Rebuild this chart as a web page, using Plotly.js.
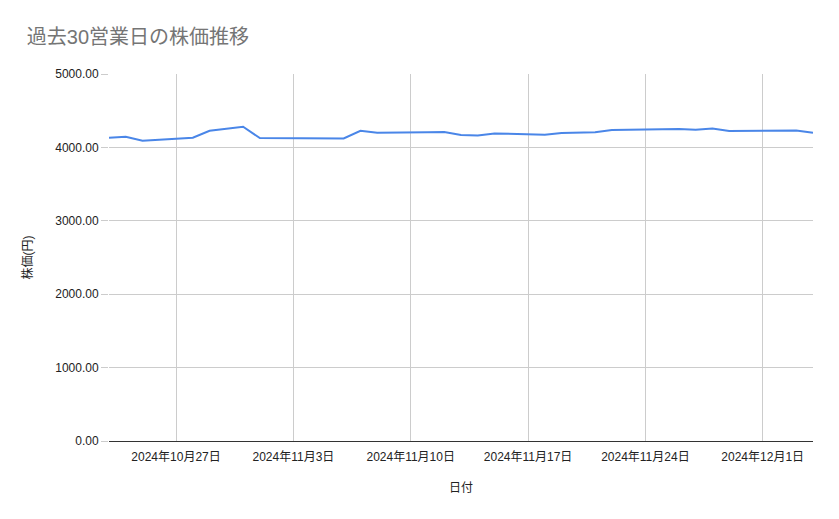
<!DOCTYPE html>
<html>
<head>
<meta charset="utf-8">
<script src="https://cdn.plot.ly/plotly-3.0.1.min.js"></script>
<style>
  html, body { margin: 0; padding: 0; background: #fff; }
  #chart { width: 839px; height: 519px; }
</style>
</head>
<body>
<div id="chart"></div>
<script>
// 過去30営業日の終値
const dates = [
    "2024-10-23", "2024-10-24", "2024-10-25", "2024-10-28", "2024-10-29",
    "2024-10-30", "2024-10-31", "2024-11-01", "2024-11-05", "2024-11-06",
    "2024-11-07", "2024-11-08", "2024-11-11", "2024-11-12", "2024-11-13",
    "2024-11-14", "2024-11-15", "2024-11-18", "2024-11-19", "2024-11-20",
    "2024-11-21", "2024-11-22", "2024-11-25", "2024-11-26", "2024-11-27",
    "2024-11-28", "2024-11-29", "2024-12-02", "2024-12-03", "2024-12-04"
];
const prices = [
    4131, 4145, 4090, 4131, 4227,
    4259, 4281, 4127, 4115, 4122,
    4227, 4199, 4205, 4210, 4170,
    4163, 4190, 4172, 4195, 4199,
    4208, 4236, 4245, 4250, 4240,
    4259, 4222, 4222, 4231, 4199
];
const xRange = ["2024-10-23", "2024-12-04"];
const yTicks = [0, 1000, 2000, 3000, 4000, 5000];

const fontFamily = "Liberation Sans, Arial, Noto Sans CJK JP, sans-serif";

let trace = {
    x: dates,
    y: prices,
    type: "scatter",
    mode: "lines",
    name: "株価",
    line: {
        color: "#4a86e8",
        width: 2
    },
    hoverinfo: "x+y"
};

let layout = {
    width: 839,
    height: 519,
    paper_bgcolor: "#ffffff",
    plot_bgcolor: "#ffffff",
    showlegend: false,
    font: {family: fontFamily, size: 12, color: "#222222"},
    margin: {l: 109, r: 26, t: 74, b: 78, pad: 0},
    title: {
        text: "過去30営業日の株価推移",
        x: 0.032,
        xanchor: "left",
        y: 0.928,
        yanchor: "middle",
        font: {family: fontFamily, size: 20, color: "#757575"}
    },
    xaxis: {
        type: "date",
        range: xRange,
        tick0: "2024-10-27",
        dtick: 7 * 24 * 60 * 60 * 1000,
        tickformat: "%Y年%-m月%-d日",
        showgrid: true,
        gridcolor: "#cccccc",
        gridwidth: 1,
        showline: true,
        linecolor: "#333333",
        linewidth: 1,
        ticks: "",
        ticklabelstandoff: 5,
        tickfont: {size: 12, color: "#222222"},
        zeroline: false,
        title: {
            text: "日付",
            standoff: 20,
            font: {size: 12, color: "#222222"}
        }
    },
    yaxis: {
        range: [0, 5000],
        tickvals: yTicks,
        tickformat: ".2f",
        showgrid: true,
        gridcolor: "#cccccc",
        gridwidth: 1,
        ticks: "outside",
        ticklen: 7,
        tickcolor: "#cccccc",
        tickfont: {size: 12, color: "#222222"},
        zeroline: false,
        showline: false,
        title: {
            text: "株価(円)",
            standoff: 20,
            font: {size: 12, color: "#222222"}
        }
    }
};

Plotly.newPlot("chart", [trace], layout, {displayModeBar: false});
</script>
</body>
</html>
